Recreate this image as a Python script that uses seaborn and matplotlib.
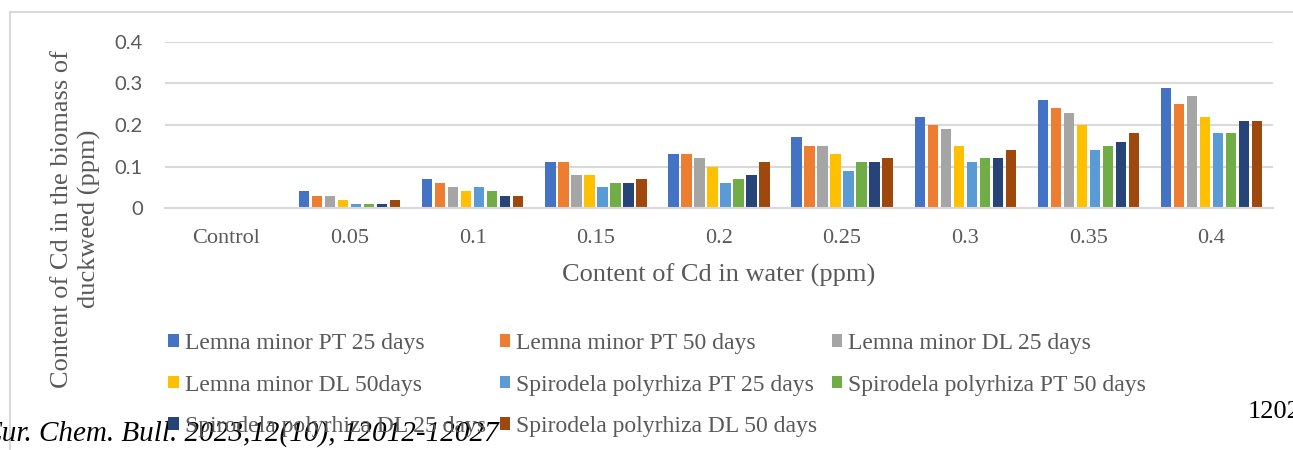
import pandas as pd
import matplotlib.pyplot as plt
import seaborn as sns
from matplotlib.patches import Rectangle

# Data
categories = ['Control', '0.05', '0.1', '0.15', '0.2', '0.25', '0.3', '0.35', '0.4']
series_names = [
    'Lemna minor PT 25 days',
    'Lemna minor PT 50 days',
    'Lemna minor DL 25 days',
    'Lemna minor DL 50days',
    'Spirodela polyrhiza PT 25 days',
    'Spirodela polyrhiza PT 50 days',
    'Spirodela polyrhiza DL 25 days',
    'Spirodela polyrhiza DL 50 days',
]
lm_pt_25 = [0, 0.04, 0.07, 0.11, 0.13, 0.17, 0.22, 0.26, 0.29]
lm_pt_50 = [0, 0.03, 0.06, 0.11, 0.13, 0.15, 0.20, 0.24, 0.25]
lm_dl_25 = [0, 0.03, 0.05, 0.08, 0.12, 0.15, 0.19, 0.23, 0.27]
lm_dl_50 = [0, 0.02, 0.04, 0.08, 0.10, 0.13, 0.15, 0.20, 0.22]
sp_pt_25 = [0, 0.01, 0.05, 0.05, 0.06, 0.09, 0.11, 0.14, 0.18]
sp_pt_50 = [0, 0.01, 0.04, 0.06, 0.07, 0.11, 0.12, 0.15, 0.18]
sp_dl_25 = [0, 0.01, 0.03, 0.06, 0.08, 0.11, 0.12, 0.16, 0.21]
sp_dl_50 = [0, 0.02, 0.03, 0.07, 0.11, 0.12, 0.14, 0.18, 0.21]
all_series = [lm_pt_25, lm_pt_50, lm_dl_25, lm_dl_50, sp_pt_25, sp_pt_50, sp_dl_25, sp_dl_50]

colors = ['#4472C4', '#ED7D31', '#A5A5A5', '#FFC000',
          '#5B9BD5', '#70AD47', '#264478', '#9E480E']

# Long format table for seaborn
rows = []
for name, vals in zip(series_names, all_series):
    for cat, v in zip(categories, vals):
        rows.append({'conc': cat, 'series': name, 'value': v})
df = pd.DataFrame(rows)

sns.set_style('white')
plt.rcParams['font.family'] = ['Liberation Serif', 'DejaVu Sans']

W, H = 1293, 450
fig = plt.figure(figsize=(W / 100, H / 100), dpi=100)
ax = fig.add_axes([165 / W, 1 - 208 / H, (1273 - 165) / W, (208 - 42) / H])

sns.barplot(data=df, x='conc', y='value', hue='series', order=categories,
            hue_order=series_names, palette=colors, saturation=1,
            width=0.845, gap=0.2, linewidth=0, ax=ax, legend=True)

grey = '#595959'
ax.set_ylim(0, 0.4)
ax.set_xlim(-0.5, 8.5)
ax.set_yticks([0, 0.1, 0.2, 0.3, 0.4])
ax.set_yticklabels(['0', '0.1', '0.2', '0.3', '0.4'], family='Lato', fontsize=14.5, color=grey)
ax.tick_params(axis='y', length=0, pad=16)
ax.tick_params(axis='x', length=0, pad=15, labelsize=16, labelcolor=grey)
ax.grid(axis='y', color='#D9D9D9', linewidth=1.5)
ax.set_axisbelow(True)
for s in ['top', 'right', 'left']:
    ax.spines[s].set_visible(False)
ax.spines['bottom'].set_color('#D9D9D9')
ax.spines['bottom'].set_linewidth(1.5)

ax.set_xlabel('Content of Cd in water (ppm)', fontsize=19, color=grey, labelpad=11)
ax.set_ylabel('')
fig.text(76 / W, 1 - 219 / H, 'Content of Cd in the biomass of\nduckweed (ppm)',
         rotation=90, ha='center', va='center', fontsize=19, color=grey,
         linespacing=1.25)

# Legend filled row-wise like the original
handles, labels = ax.get_legend_handles_labels()
ax.legend_.remove()
order = [0, 3, 6, 1, 4, 7, 2, 5]
fig.legend([handles[i] for i in order], [labels[i] for i in order],
           ncol=3, loc='upper left', bbox_to_anchor=(168 / W, 1 - 333 / H),
           frameon=False, fontsize=17, labelcolor=grey,
           handlelength=0.45, handleheight=0.45, handletextpad=0.25,
           columnspacing=0.6, labelspacing=0.87, borderaxespad=0, borderpad=0)

# Chart frame (cut by the screenshot)
fig.patches.append(Rectangle((10 / W, -0.1), 1.2, 1 - 12 / H + 0.1,
                             transform=fig.transFigure, fill=False,
                             edgecolor='#D9D9D9', linewidth=1.5))

# Surrounding page text
fig.text(-16 / W, 1 - 441 / H, 'Eur. Chem. Bull. 2023,12(10), 12012-12027',
         fontsize=21, style='italic', color='black', va='baseline', ha='left')
fig.text(1248 / W, 1 - 418 / H, '12020', fontsize=19, color='black',
         va='baseline', ha='left')

fig.savefig('out.png', dpi=100)
